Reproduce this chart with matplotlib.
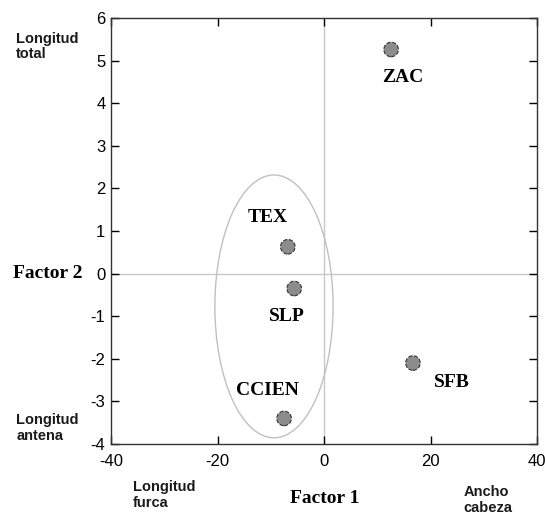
import matplotlib.pyplot as plt
from matplotlib.patches import Ellipse

plt.rcParams["axes.unicode_minus"] = False

# factor scores per population
sites = ["ZAC", "TEX", "SLP", "CCIEN", "SFB"]
factor1 = [12.6, -6.8, -5.6, -7.5, 16.7]
factor2 = [5.26, 0.63, -0.35, -3.4, -2.1]

xticks = [-40, -20, 0, 20, 40]
yticks = [-4, -3, -2, -1, 0, 1, 2, 3, 4, 5, 6]

fig = plt.figure(figsize=(5.45, 5.15), dpi=100)
ax = fig.add_axes([0.2037, 0.1379, 0.7817, 0.8272])

ax.axhline(0, color="#c8c8c8", lw=1, zorder=0)
ax.axvline(0, color="#c8c8c8", lw=1, zorder=0)

ax.add_patch(Ellipse((-9.4, -0.77), 22.2, 6.17, fill=False, ec="#c0c0c0", lw=1))

ax.scatter(factor1, factor2, s=110, c="#8c8c8c", edgecolors="#333333",
           linestyle="--", linewidths=0.8, zorder=3)

offsets = {"ZAC": (2.2, -0.65), "TEX": (-3.8, 0.68), "SLP": (-1.4, -0.65),
           "CCIEN": (-3.2, 0.66), "SFB": (7.3, -0.45)}
for s, x, y in zip(sites, factor1, factor2):
    dx, dy = offsets[s]
    ax.text(x + dx, y + dy, s, ha="center", va="center", fontsize=14,
            fontweight="bold", family="Liberation Serif")

ax.set_xlim(-40, 40)
ax.set_ylim(-4, 6)
ax.set_xticks(xticks)
ax.set_yticks(yticks)
ax.tick_params(direction="in", top=True, right=True, length=6, width=1,
               labelsize=12, pad=4)
ax.tick_params(axis="x", pad=7)
for lbl in ax.get_xticklabels() + ax.get_yticklabels():
    lbl.set_family("Liberation Sans")
for sp in ax.spines.values():
    sp.set_linewidth(1)
    sp.set_color("#333333")

fig.text(0.088, 0.468, "Factor 2", ha="center", va="center", fontsize=14,
         fontweight="bold", family="Liberation Serif")
fig.text(0.595, 0.033, "Factor 1", ha="center", va="center", fontsize=14,
         fontweight="bold", family="Liberation Serif")

side = dict(fontsize=10.5, fontweight="bold", family="Liberation Sans",
            color="#1a1a1a", linespacing=1.15)
fig.text(0.03, 0.91, "Longitud\ntotal", ha="left", va="center", **side)
fig.text(0.03, 0.169, "Longitud\nantena", ha="left", va="center", **side)
fig.text(0.244, 0.039, "Longitud\nfurca", ha="left", va="center", **side)
fig.text(0.85, 0.029, "Ancho\ncabeza", ha="left", va="center", **side)

fig.savefig("out.png", dpi=100)
